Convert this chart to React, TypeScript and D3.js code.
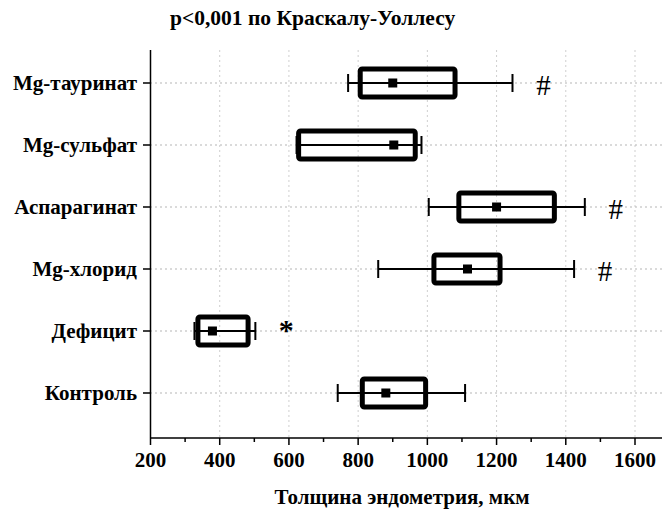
import React from 'react';
import * as d3 from 'd3';

const groups = ['Mg-тауринат', 'Mg-сульфат', 'Аспарагинат', 'Mg-хлорид', 'Дефицит', 'Контроль'];
const whiskerLow = [771, 622, 1004, 858, 327, 741];
const boxLow = [806, 628, 1091, 1019, 337, 812];
const means = [900, 903, 1200, 1116, 379, 880];
const boxHigh = [1080, 965, 1367, 1210, 482, 995];
const whiskerHigh = [1246, 983, 1455, 1424, 503, 1109];
const marks = ['#', '', '#', '#', '*', ''];
const xTicks = [200, 400, 600, 800, 1000, 1200, 1400, 1600];
const xMinor = [300, 500, 700, 900, 1100, 1300, 1500];

const W = 662;
const H = 509;
const serif = { fontFamily: 'Liberation Serif', fontWeight: 'bold' as const };

export default function App() {
  const x = d3.scaleLinear().domain([200, 1600]).range([150.5, 635]);
  const y = d3.scalePoint<string>().domain(groups).range([83, 393]);
  const top = 50;
  const bottom = 438;
  const boxH = 28;
  const capH = 18;
  const m = 9;

  return (
    <svg width={W} height={H} style={{ position: 'absolute', left: 0, top: 0, background: '#fff' }}>
      {/* grid */}
      <g stroke="#cfcfcf" strokeWidth={1} strokeDasharray="2,3">
        {xTicks.slice(1).map(t => (
          <line key={'gx' + t} x1={x(t)} x2={x(t)} y1={top} y2={bottom} />
        ))}
        {groups.map(g => (
          <line key={'gy' + g} x1={150} x2={W} y1={y(g)} y2={y(g)} stroke="#b5b5b5" />
        ))}
      </g>

      <text x={170} y={25} style={{ ...serif, fontSize: 21.5 }}>
        p&lt;0,001 по Краскалу-Уоллесу
      </text>

      {/* boxes */}
      {groups.map((g, i) => {
        const cy = y(g) as number;
        return (
          <g key={g}>
            <line x1={x(whiskerLow[i])} x2={x(whiskerHigh[i])} y1={cy} y2={cy} stroke="#000" strokeWidth={2} />
            <line x1={x(whiskerLow[i])} x2={x(whiskerLow[i])} y1={cy - capH / 2} y2={cy + capH / 2} stroke="#000" strokeWidth={2} />
            <line x1={x(whiskerHigh[i])} x2={x(whiskerHigh[i])} y1={cy - capH / 2} y2={cy + capH / 2} stroke="#000" strokeWidth={2} />
            <rect x={x(boxLow[i])} y={cy - boxH / 2} width={x(boxHigh[i]) - x(boxLow[i])} height={boxH}
              fill="none" stroke="#000" strokeWidth={5} rx={2} />
            <rect x={x(means[i]) - m / 2} y={cy - m / 2} width={m} height={m} fill="#000" />
            {marks[i] === '#' && (
              <text x={x(whiskerHigh[i]) + 31} y={cy + 12} textAnchor="middle"
                style={{ fontFamily: 'Liberation Serif', fontSize: 29 }}>#</text>
            )}
            {marks[i] === '*' && (
              <text x={x(whiskerHigh[i]) + 31} y={cy + 9} textAnchor="middle"
                style={{ ...serif, fontSize: 30 }}>*</text>
            )}
          </g>
        );
      })}

      {/* y axis */}
      <line x1={150.5} x2={150.5} y1={top} y2={bottom} stroke="#000" strokeWidth={1.5} />
      {groups.map(g => (
        <g key={'yt' + g}>
          <line x1={143} x2={150} y1={y(g)} y2={y(g)} stroke="#000" strokeWidth={1.5} />
          <text x={137} y={(y(g) as number) + 7} textAnchor="end" style={{ ...serif, fontSize: 21 }}>{g}</text>
        </g>
      ))}

      {/* x axis */}
      <line x1={150} x2={W} y1={bottom} y2={bottom} stroke="#000" strokeWidth={1.5} />
      {xTicks.map(t => (
        <g key={'xt' + t}>
          <line x1={x(t)} x2={x(t)} y1={bottom} y2={bottom + 7} stroke="#000" strokeWidth={1.5} />
          <text x={x(t)} y={467} textAnchor="middle" style={{ ...serif, fontSize: 21 }}>{t}</text>
        </g>
      ))}
      {xMinor.map(t => (
        <line key={'xm' + t} x1={x(t)} x2={x(t)} y1={bottom} y2={bottom + 4} stroke="#000" strokeWidth={1.5} />
      ))}
      <text x={402} y={504} textAnchor="middle" style={{ ...serif, fontSize: 21 }}>
        Толщина эндометрия, мкм
      </text>
    </svg>
  );
}
